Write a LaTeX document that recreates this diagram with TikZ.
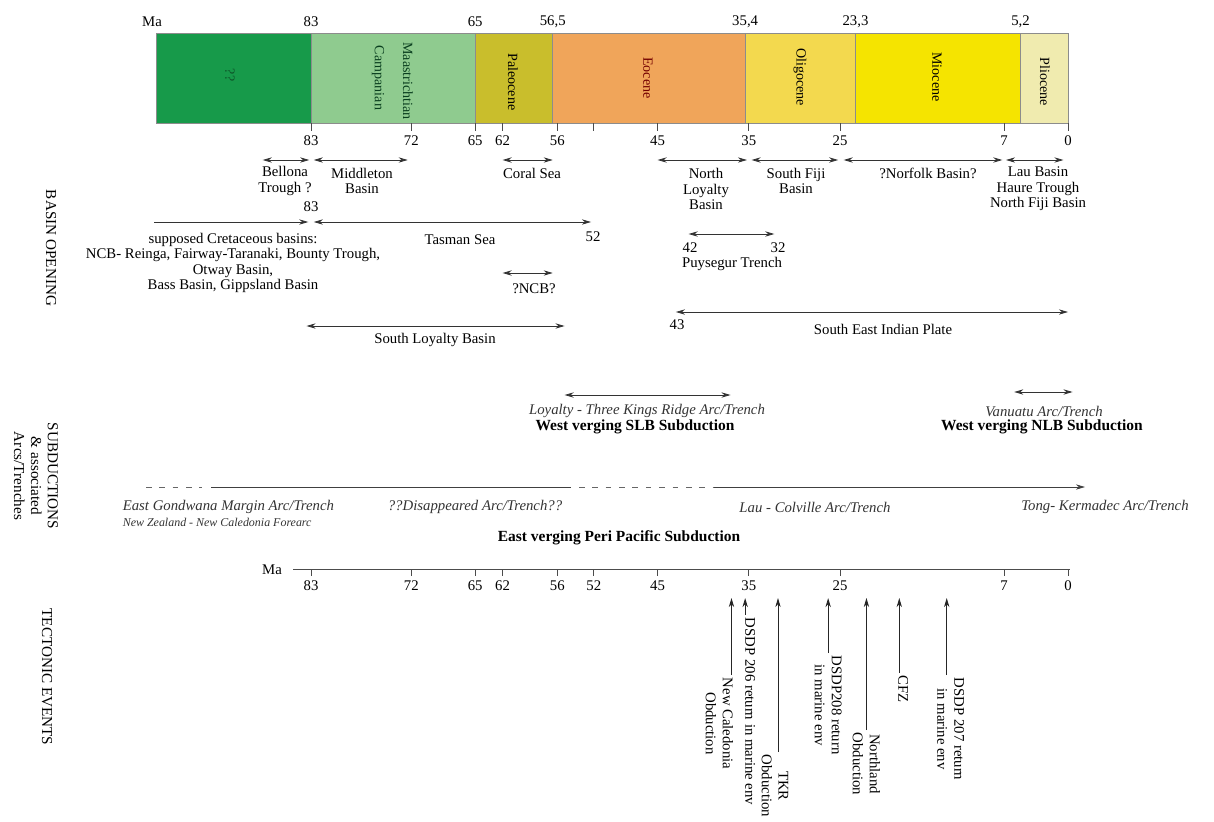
\documentclass[tikz,border=0pt]{standalone}
\usepackage{fontspec}
\setmainfont{Liberation Serif}
\usetikzlibrary{
    arrows.meta,
    positioning
}
\definecolor{cretgreen}{HTML}{179A4A}
\definecolor{campgreen}{HTML}{8FCB8F}
\definecolor{paleo}{HTML}{C9BE2C}
\definecolor{eoc}{HTML}{F0A55A}
\definecolor{oligo}{HTML}{F3D94E}
\definecolor{mio}{HTML}{F5E400}
\definecolor{plio}{HTML}{F0EBAF}
\newcommand{\ma}[1]{1068-9.12*(#1)}
\tikzset{
    every picture/.style = {
        > = {Stealth[length=6.5pt, width=3.8pt]},
        line width = 0.6pt
    },
    every node/.style = {
        inner sep = 1pt,
        outer sep = 1pt,
        align = center,
        font = \fontsize{10.5}{11}\selectfont
    },
    span/.style = {<->, draw=black!80},
    epoch/.style = {rotate=-90, font=\fontsize{10}{12}\selectfont},
    arctext/.style = {font=\fontsize{10.5}{12}\selectfont\itshape, text=black!80},
    verging/.style = {font=\fontsize{11}{13}\selectfont\bfseries},
    sectionlabel/.style = {rotate=-90, font=\fontsize{10.8}{12}\selectfont},
    eventlabel/.style = {rotate=-90, anchor=west, font=\fontsize{10.5}{12}\selectfont},
    subline/.style = {draw=black!75},
    dashline/.style = {draw=black!60, dash pattern=on 4pt off 5.5pt}
}
\begin{document}
\begin{tikzpicture}[x=0.025cm, y=-0.025cm]
    \useasboundingbox (0,0) rectangle (1214,821);
    \begin{scope}
        \foreach \a/\b/\col in {100/83/cretgreen, 83/65/campgreen, 65/56.5/paleo, 56.5/35.4/eoc, 35.4/23.3/oligo, 23.3/5.2/mio, 5.2/0/plio}
            \filldraw[fill=\col, draw=black!45] ({\ma{\a}},33) rectangle ({\ma{\b}},123);
        \path (152,22) node (maTop) {Ma};
        \foreach \t/\lab [count=\i] in {83/83, 65/65, 56.5/{56,5}, 35.4/{35,4}, 23.3/{23,3}, 5.2/{5,2}}
            \path ({\ma{\t}},22) node (top\i) {\lab};
        \foreach \t in {83,72,65,62,56,52,45,35,25,7,0}
            \draw[black!70] ({\ma{\t}},123) -- ({\ma{\t}},131);
        \foreach \t in {83,72,65,62,56,45,35,25,7,0}
            \path ({\ma{\t}},141) node (bot\t) {\t};
        \path (230,75) node[epoch, text=cretgreen!55!black] (stage) {??};
        \path (378,78) node[epoch, text=cretgreen!40!black] (campanian) {Campanian};
        \path (408,81) node[epoch, text=cretgreen!40!black] (maastr) {Maastrichtian};
        \path (513,82) node[epoch] (paleocene) {Paleocene};
        \path (648,78) node[epoch, text=red!45!black] (eocene) {Eocene};
        \path (800,77) node[epoch] (oligocene) {Oligocene};
        \path (937,77) node[epoch] (miocene) {Miocene};
        \path (1045,82) node[epoch] (pliocene) {Pliocene};
    \end{scope}
    % basin opening
    \begin{scope}
        \path (51,248) node[sectionlabel] (basinLbl) {BASIN OPENING};
        \draw[span] ({\ma{88.3}},160) -- ({\ma{83.2}},160);
        \draw[span] ({\ma{82.7}},160) -- ({\ma{72.4}},160);
        \draw[span] ({\ma{62}},160) -- ({\ma{56.5}},160);
        \draw[span] ({\ma{45}},160) -- ({\ma{35.2}},160);
        \draw[span] ({\ma{34.7}},160) -- ({\ma{25.2}},160);
        \draw[span] ({\ma{24.6}},160) -- ({\ma{7.2}},160);
        \draw[span] ({\ma{6.8}},160) -- ({\ma{0.5}},160);
        \path (285,181) node (bellona) {Bellona\\Trough ?};
        \path (362,181) node (middleton) {Middleton\\Basin};
        \path (532,173) node (coral) {Coral Sea};
        \path (706,189) node (nloyalty) {North\\Loyalty\\Basin};
        \path (796,181) node (sfiji) {South Fiji\\Basin};
        \path (928,173) node (norfolk) {?Norfolk Basin?};
        \path (1038,189) node (lau) {Lau Basin\\Haure Trough\\North Fiji Basin};
        \path (311,207) node (tasStart) {83};
        \draw[->, draw=black!80] ({\ma{100.2}},222) -- ({\ma{83.3}},222);
        \draw[span] ({\ma{82.7}},222) -- ({\ma{52.3}},222);
        \path (593,237) node (tasEnd) {52};
        \path (460,240) node (tasman) {Tasman Sea};
        \path (233,263) node (cretaceous) {supposed Cretaceous basins:\\NCB- Reinga, Fairway-Taranaki, Bounty Trough,\\Otway Basin,\\Bass Basin, Gippsland Basin};
        \draw[span] ({\ma{41.6}},234) -- ({\ma{32.2}},234);
        \path (690,248) node (puyStart) {42};
        \path (778,248) node (puyEnd) {32};
        \path (732,264) node (puysegur) {Puysegur Trench};
        \draw[span] ({\ma{62}},273) -- ({\ma{56.5}},273);
        \path (534,289) node (ncb) {?NCB?};
        \draw[span] ({\ma{83.5}},326) -- ({\ma{55.2}},326);
        \path (435,340) node (sloyalty) {South Loyalty Basin};
        \draw[span] ({\ma{43}},312) -- ({\ma{0}},312);
        \path (677,325) node (seiStart) {43};
        \path (883,329) node (seindian) {South East Indian Plate};
    \end{scope}
    % subductions
    \begin{scope}
        \path (36,476) node[sectionlabel] (subLbl) {SUBDUCTIONS\\\& associated\\Arcs/Trenches};
        \draw[span] ({\ma{55.2}},395) -- ({\ma{37}},395);
        \path (647,411) node[arctext] (ltk) {Loyalty - Three Kings Ridge Arc/Trench};
        \path (635,427) node[verging] (slb) {West verging SLB Subduction};
        \draw[span] ({\ma{5.9}},392) -- ({\ma{-0.5}},392);
        \path (1044,411) node[arctext] (vanuatu) {Vanuatu Arc/Trench};
        \path (1042,427) node[verging] (nlb) {West verging NLB Subduction};
        \draw[dashline] (146,487) -- (202,487);
        \draw[subline] (211,487) -- (571,487);
        \draw[dashline] (579,487) -- (714,487);
        \draw[subline, ->] (714,487) -- (1085,487);
        \path (120,507) node[arctext, anchor=west] (gondwana) {East Gondwana Margin Arc/Trench};
        \path (120,522) node[arctext, anchor=west, font=\fontsize{8.5}{10}\selectfont\itshape] (forearc) {New Zealand - New Caledonia Forearc};
        \path (475,507) node[arctext] (disappeared) {??Disappeared Arc/Trench??};
        \path (815,507) node[arctext] (colville) {Lau - Colville Arc/Trench};
        \path (1105,507) node[arctext] (kermadec) {Tong- Kermadec Arc/Trench};
        \path (619,538) node[verging] (peri) {East verging Peri Pacific Subduction};
    \end{scope}
    % tectonic events
    \begin{scope}
        \path (47,677) node[sectionlabel] (tecLbl) {TECTONIC EVENTS};
        \path (272,570) node (maBot) {Ma};
        \draw[black!70] (293,569) -- (1070,569);
        \foreach \t in {83,72,65,62,56,52,45,35,25,7,0} {
            \draw[black!70] ({\ma{\t}},569) -- ({\ma{\t}},576);
            \path ({\ma{\t}},586) node (axis\t) {\t};
        }
        \foreach \t/\y/\dx/\lab [count=\i] in {36.9/675/-12/{New Caledonia\\Obduction}, 35.4/615/5/{DSDP 206 return in marine env}, 31.8/752/-3/{TKR\\Obduction}, 26.3/653/0/{DSDP208 return\\in marine env}, 22.1/730/0/{Northland\\Obduction}, 18.5/673/4/{CFZ}, 13.3/675/4/{DSDP 207 return\\in marine env}} {
            \path ({\ma{\t}+\dx},\y) node[eventlabel] (ev\i) {\lab};
            \coordinate (tip\i) at ({\ma{\t}},598);
            \draw[->, draw=black!85] (tip\i |- ev\i.west) -- (tip\i);
        }
    \end{scope}
\end{tikzpicture}
\end{document}
